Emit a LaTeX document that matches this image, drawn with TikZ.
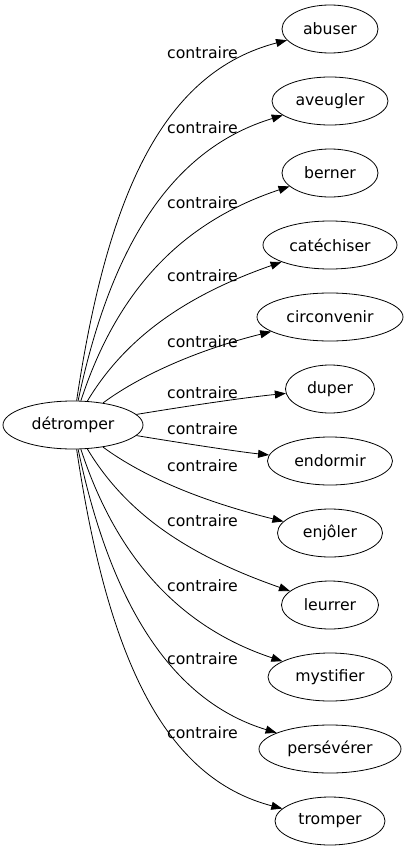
\documentclass[tikz,border=0pt]{standalone}
\usepackage{fontspec}
\setmainfont{DejaVu Sans}
\usetikzlibrary{arrows.meta,shapes.geometric}
\begin{document}
\begin{tikzpicture}[x=1pt,y=-1pt,
  word/.style={ellipse,draw,line width=0.8pt,inner sep=0pt,minimum height=48pt,font=\fontsize{15.7}{18}\selectfont},
  lab/.style={font=\fontsize{15.7}{18}\selectfont,inner sep=0pt},
  edge/.style={line width=0.8pt,-{Triangle[length=11pt,width=8pt]}}]
\useasboundingbox (0,0) rectangle (409,851);
\node[word,minimum width=140pt] (src) at (73,425) {détromper};
\node[word,minimum width=96pt] (t1) at (330,29) {abuser};
\node[word,minimum width=116pt] (t2) at (330,101) {aveugler};
\node[word,minimum width=96pt] (t3) at (330,173) {berner};
\node[word,minimum width=134pt] (t4) at (330,245) {catéchiser};
\node[word,minimum width=146pt] (t5) at (330,317) {circonvenir};
\node[word,minimum width=89pt] (t6) at (330,389) {duper};
\node[word,minimum width=125pt] (t7) at (330,461) {endormir};
\node[word,minimum width=105pt] (t8) at (330,533) {enjôler};
\node[word,minimum width=97pt] (t9) at (330,605) {leurrer};
\node[word,minimum width=124pt] (t10) at (330,677) {mystifier};
\node[word,minimum width=142pt] (t11) at (330,749) {persévérer};
\node[word,minimum width=110pt] (t12) at (330,821) {tromper};
\draw[edge] (src) .. controls (108,190) and (165,72) .. (t1);
\draw[edge] (src) .. controls (112,240) and (175,148) .. (t2);
\draw[edge] (src) .. controls (117,290) and (182,222) .. (t3);
\draw[edge] (src) .. controls (127,335) and (190,294) .. (t4);
\draw[edge] (src) .. controls (145,372) and (205,348) .. (t5);
\draw[edge] (src) .. controls (175,408) and (240,398) .. (t6);
\draw[edge] (src) .. controls (175,442) and (240,452) .. (t7);
\draw[edge] (src) .. controls (145,478) and (205,502) .. (t8);
\draw[edge] (src) .. controls (127,515) and (190,556) .. (t9);
\draw[edge] (src) .. controls (117,560) and (182,628) .. (t10);
\draw[edge] (src) .. controls (112,610) and (175,702) .. (t11);
\draw[edge] (src) .. controls (108,660) and (165,778) .. (t12);
\node[lab] (l1) at (202.5,53) {contraire};
\node[lab] (l2) at (202.5,128) {contraire};
\node[lab] (l3) at (202.5,203) {contraire};
\node[lab] (l4) at (202.5,276) {contraire};
\node[lab] (l5) at (202.5,342) {contraire};
\node[lab] (l6) at (202.5,393) {contraire};
\node[lab] (l7) at (202.5,429) {contraire};
\node[lab] (l8) at (202.5,466) {contraire};
\node[lab] (l9) at (202.5,521) {contraire};
\node[lab] (l10) at (202.5,586) {contraire};
\node[lab] (l11) at (202.5,659) {contraire};
\node[lab] (l12) at (202.5,733) {contraire};
\end{tikzpicture}
\end{document}
